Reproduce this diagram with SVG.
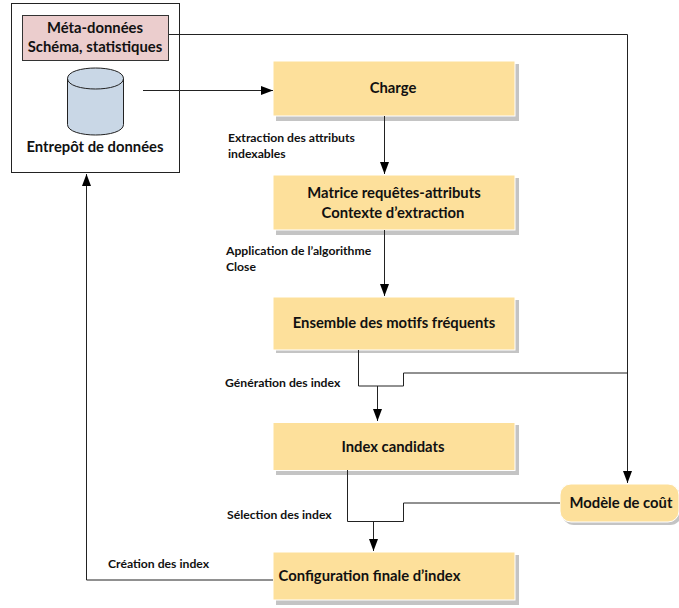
<svg xmlns="http://www.w3.org/2000/svg" width="679" height="608" viewBox="0 0 679 608">
<style>
text{font-family:"Lato","Liberation Sans",sans-serif;font-weight:700;fill:#111;text-anchor:middle}
.n{font-size:14.800px}.l{font-size:12.200px;text-anchor:start;font-weight:700}
.b{fill:#fde09b;stroke:#fff;stroke-width:1}
.s{fill:#c4c4c4}
.c{fill:none;stroke:#222;stroke-width:1}
</style>
<defs><marker id="a" markerUnits="userSpaceOnUse" markerWidth="12" markerHeight="12" viewBox="0 0 12 12" refX="12" refY="6" orient="auto"><path d="M0 1.5L12 6L0 10.500z" fill="#000"/></marker></defs>
<g id="entrepot">
<rect x="11.500" y="3.500" width="168" height="169" fill="#fff" stroke="#222"/>
<rect x="22.500" y="15.500" width="146" height="45" fill="#ebcdcd" stroke="#333"/>
<text class="n" x="95" y="33">Méta-données</text>
<text class="n" x="95" y="52">Schéma, statistiques</text>
<path d="M67.500 78.500C67.500 64.500 123.500 64.500 123.500 78.500V124.500C123.500 138.500 67.500 138.500 67.500 124.500Z" fill="#c9d7e6" stroke="#222"/>
<path d="M67.500 78.500C67.500 92.500 123.500 92.500 123.500 78.500" fill="none" stroke="#222"/>
<text class="n" x="95" y="152">Entrepôt de données</text>
</g>
<g id="charge"><rect class="s" x="276" y="64" width="243" height="57"/><rect class="b" x="273" y="61" width="242" height="55"/><text class="n" x="393" y="93">Charge</text></g>
<g id="matrice"><rect class="s" x="276" y="178" width="243" height="57"/><rect class="b" x="273" y="175" width="242" height="55"/><text class="n" x="394" y="198">Matrice requêtes-attributs</text><text class="n" x="393" y="218">Contexte d’extraction</text></g>
<g id="motifs"><rect class="s" x="276" y="300" width="243" height="53"/><rect class="b" x="273" y="297" width="242" height="53"/><text class="n" x="394" y="328">Ensemble des motifs fréquents</text></g>
<g id="candidats"><rect class="s" x="276" y="425" width="243" height="50"/><rect class="b" x="273" y="422.500" width="242" height="48"/><text class="n" x="393" y="452">Index candidats</text></g>
<g id="configuration"><rect class="s" x="276" y="555" width="243" height="50"/><rect class="b" x="273" y="552" width="242" height="48"/><text class="n" x="369.500" y="581">Configuration finale d’index</text></g>
<g id="cout"><rect class="s" x="562" y="487" width="120" height="38" rx="12"/><rect class="b" x="560" y="484" width="119" height="38" rx="11"/><text class="n" x="621" y="508">Modèle de coût</text></g>
<g id="connectors">
<path class="c" d="M169 34.500H627.500V483" marker-end="url(#a)"/>
<path class="c" d="M143 90.500H273" marker-end="url(#a)"/>
<path class="c" d="M384.500 116V174" marker-end="url(#a)"/>
<path class="c" d="M384.500 230V296" marker-end="url(#a)"/>
<path class="c" d="M358.500 350V386H403.500V373H627.500"/>
<path class="c" d="M377.500 386V421" marker-end="url(#a)"/>
<path class="c" d="M347.500 470V521.500H403.500V503H560"/>
<path class="c" d="M373.500 521.500V551" marker-end="url(#a)"/>
<path class="c" d="M273 580H86.500V174" marker-end="url(#a)"/>
</g>
<g id="labels">
<text class="l" x="228" y="142">Extraction des attributs</text>
<text class="l" x="228" y="158">indexables</text>
<text class="l" x="226" y="255">Application de l’algorithme</text>
<text class="l" x="226" y="271">Close</text>
<text class="l" x="225" y="387">Génération des index</text>
<text class="l" x="227" y="519">Sélection des index</text>
<text class="l" x="108" y="568">Création des index</text>
</g>
</svg>
